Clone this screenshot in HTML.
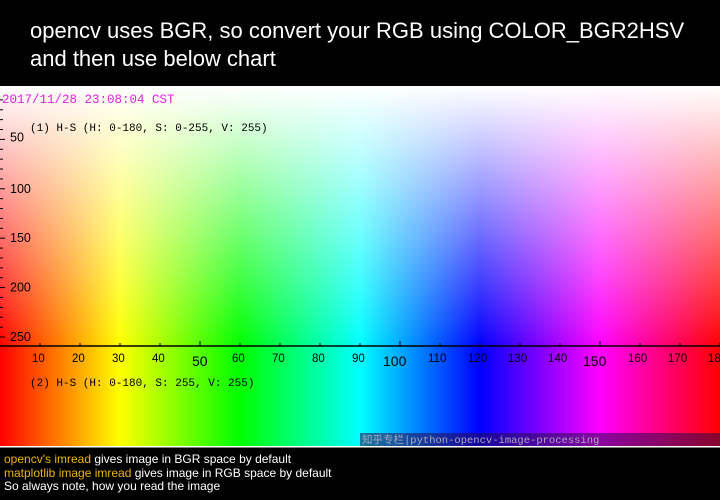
<!DOCTYPE html>
<html><head><meta charset="utf-8"><style>
html,body{margin:0;padding:0;background:#000;width:720px;height:500px;overflow:hidden}
.hdr{position:absolute;left:30px;top:17px;color:#fff;font:22px/28px "Liberation Sans",sans-serif}
.foot{position:absolute;left:4px;top:453px;color:#fff;font:12px/13.5px "Liberation Sans",sans-serif}
.foot span{color:#f0b400}
svg{position:absolute;left:0;top:0}
</style></head><body>
<div class="hdr">opencv uses BGR, so convert your RGB using COLOR_BGR2HSV<br>and then use below chart</div>
<svg width="720" height="500">
<defs>
<linearGradient id="hue" x1="0" x2="1" y1="0" y2="0">
<stop offset="0" stop-color="#f00"/><stop offset="0.1667" stop-color="#ff0"/>
<stop offset="0.3333" stop-color="#0f0"/><stop offset="0.5" stop-color="#0ff"/>
<stop offset="0.6667" stop-color="#00f"/><stop offset="0.8333" stop-color="#f0f"/>
<stop offset="1" stop-color="#f00"/></linearGradient>
<linearGradient id="sat" x1="0" x2="0" y1="0" y2="1">
<stop offset="0" stop-color="#fff" stop-opacity="1"/><stop offset="1" stop-color="#fff" stop-opacity="0"/></linearGradient>
</defs>
<rect x="0" y="86" width="720" height="360" fill="url(#hue)"/>
<rect x="0" y="86" width="720" height="261" fill="url(#sat)"/>
<rect x="0" y="446" width="720" height="1.5" fill="#fff"/>
<line x1="0" y1="346" x2="720" y2="346" stroke="#000" stroke-width="1.5"/>
<text x="2" y="103" fill="#e020e0" font-family="Liberation Mono,monospace" font-size="12.5">2017/11/28 23:08:04 CST</text>
<text x="30" y="131" fill="#000" font-family="Liberation Mono,monospace" font-size="11">(1) H-S (H: 0-180, S: 0-255, V: 255)</text>
<text x="30" y="386" fill="#000" font-family="Liberation Mono,monospace" font-size="11">(2) H-S (H: 0-180, S: 255, V: 255)</text>
<g id="ticks"></g>
<rect x="360" y="433" width="360" height="13" fill="#2a0a50" opacity="0.55"/>
<text x="362" y="443" fill="#aab" font-family="Liberation Mono,'Noto Sans CJK SC',monospace" font-size="10.5">知乎专栏|python-opencv-image-processing</text>
</svg>
<div class="foot"><span>opencv's imread</span> gives image in BGR space by default<br><span>matplotlib image imread</span> gives image in RGB space by default<br>So always note, how you read the image</div>
<script>
const xTicks=[10,20,30,40,50,60,70,80,90,100,110,120,130,140,150,160,170,180];
const yTicks=[50,100,150,200,250];
const sx=h=>h*4, sy=s=>90+s*0.988;
const g=document.getElementById('ticks');
const NS='http://www.w3.org/2000/svg';
xTicks.forEach(h=>{
 const big=h%50===0;
 const l=document.createElementNS(NS,'line');
 
 
 l.setAttribute('x1',sx(h));l.setAttribute('x2',sx(h));l.setAttribute('y1',big?341:343);l.setAttribute('y2',346);l.setAttribute('stroke','#000');g.appendChild(l);
 const t=document.createElementNS(NS,'text');
 
 
 t.setAttribute('x',sx(h)-(h>=100?(big?17:12):8));t.setAttribute('y',big?366:362);
 t.setAttribute('font-family','Liberation Sans,sans-serif');t.setAttribute('font-size',big?14:11.5);t.textContent=h;g.appendChild(t);
});
yTicks.forEach(s=>{
 const t=document.createElementNS(NS,'text');
 
 
 t.setAttribute('x',10);t.setAttribute('y',sy(s)+(s===50?2:4));
 t.setAttribute('font-family','Liberation Sans,sans-serif');t.setAttribute('font-size',12.5);t.textContent=s;g.appendChild(t);
});
for(let s=10;s<=250;s+=10){
 const l=document.createElementNS(NS,'line');
 
 
 l.setAttribute('x1',0);l.setAttribute('x2',s%50===0?5:3);l.setAttribute('y1',sy(s));l.setAttribute('y2',sy(s));l.setAttribute('stroke','#000');g.appendChild(l);
}
</script>
</body></html>
